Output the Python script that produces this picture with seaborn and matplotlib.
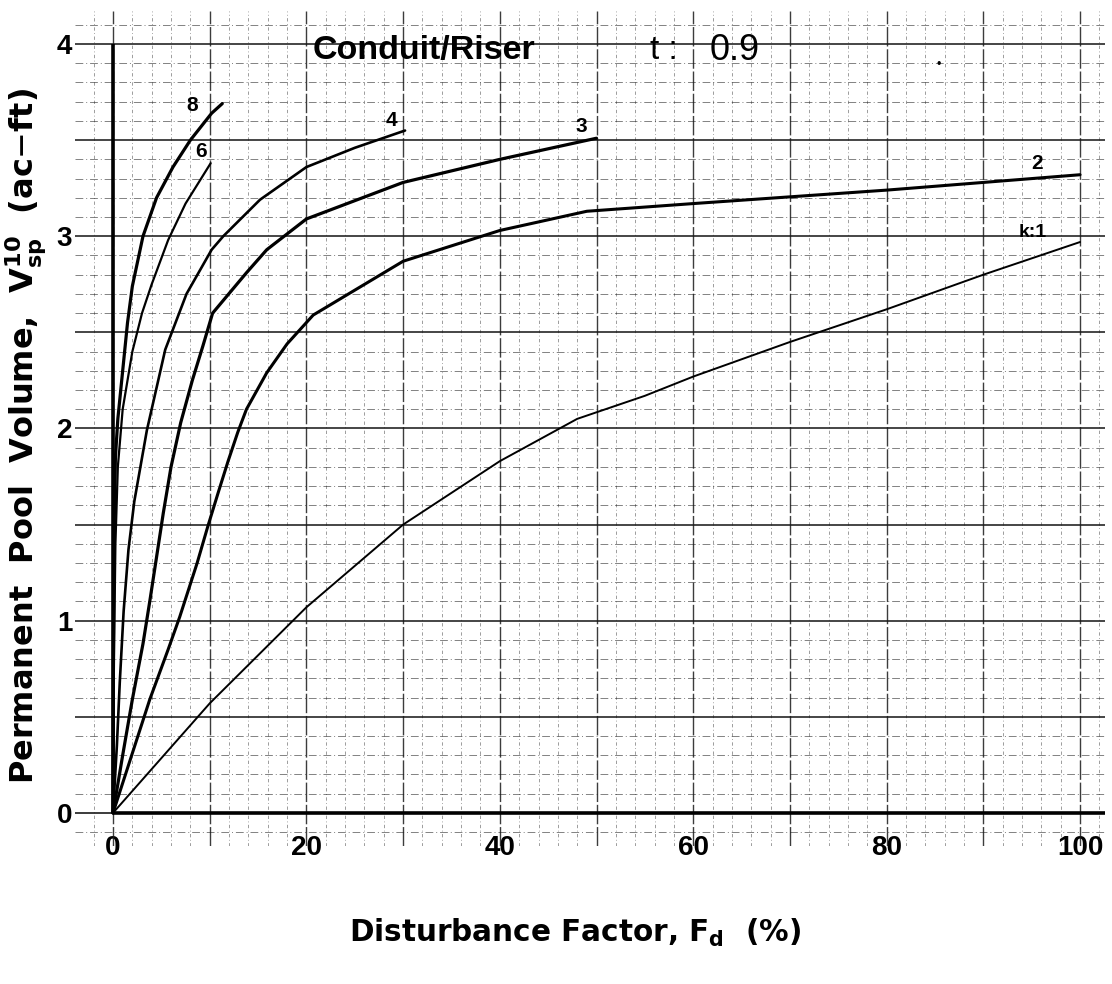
import numpy as np
import pandas as pd
import matplotlib
matplotlib.use("Agg")
import matplotlib.pyplot as plt
import seaborn as sns

# ---------------- data ----------------
k8_x = [0, 0.05, 0.12, 0.25, 0.5, 1.0, 1.5, 2.0, 3.1, 4.5, 6.2, 8.0, 10.2, 11.3]
k8_y = [0, 0.9, 1.5, 1.85, 2.05, 2.3, 2.55, 2.74, 3.0, 3.2, 3.36, 3.5, 3.64, 3.69]

k6_x = [0, 0.1, 0.25, 0.5, 1.0, 2.0, 3.0, 4.0, 5.7, 7.5, 10.1]
k6_y = [0, 0.8, 1.4, 1.8, 2.1, 2.4, 2.6, 2.75, 2.98, 3.17, 3.38]

k4_x = [0, 0.4, 0.7, 1.1, 1.6, 2.2, 3.5, 5.4, 7.6, 10.2, 11.4, 15.2, 20, 25, 30.2]
k4_y = [0, 0.35, 0.68, 1.05, 1.37, 1.62, 1.99, 2.41, 2.7, 2.93, 3.0, 3.19, 3.36, 3.46, 3.55]

k3_x = [0, 1.0, 2.0, 3.1, 3.8, 4.5, 5.2, 6.0, 7.0, 8.2, 9.3, 10.3, 13.8, 15.9, 20, 30, 40, 50]
k3_y = [0, 0.3, 0.59, 0.88, 1.1, 1.33, 1.56, 1.8, 2.03, 2.25, 2.43, 2.6, 2.81, 2.93, 3.09, 3.28, 3.40, 3.51]

k2_x = [0, 3.8, 5.7, 6.9, 8.7, 9.8, 10.9, 11.9, 12.9, 13.8, 15.9, 18, 20.7, 30, 40, 49, 60, 80, 100]
k2_y = [0, 0.59, 0.85, 1.02, 1.3, 1.49, 1.67, 1.83, 1.98, 2.1, 2.29, 2.44, 2.59, 2.87, 3.03, 3.13, 3.17, 3.24, 3.32]

k1_x = [0, 10, 20, 30, 40, 48, 55, 60, 70, 80, 90, 100]
k1_y = [0, 0.57, 1.07, 1.5, 1.83, 2.05, 2.17, 2.27, 2.45, 2.62, 2.80, 2.97]

curve_names = ["8", "6", "4", "3", "2", "k:1"]
curve_labels_x = [8.2, 9.1, 28.8, 48.4, 95.6, 95.1]
curve_labels_y = [3.68, 3.44, 3.60, 3.57, 3.38, 3.02]

x_ticks = [0, 20, 40, 60, 80, 100]
y_ticks = [0, 1, 2, 3, 4]

title_text = "Conduit/Riser"
param_name = "t :"
param_value = "0.9"

# ---------------- build long table ----------------
series = {"8": (k8_x, k8_y), "6": (k6_x, k6_y), "4": (k4_x, k4_y),
          "3": (k3_x, k3_y), "2": (k2_x, k2_y), "k:1": (k1_x, k1_y)}
frames = []
for name, (xs, ys) in series.items():
    frames.append(pd.DataFrame({"Fd": xs, "V": ys, "k": name}))
df = pd.concat(frames, ignore_index=True)

# ---------------- style ----------------
sns.set_theme(style="white")
plt.rcParams["font.family"] = ["Liberation Sans", "DejaVu Sans"]
plt.rcParams["mathtext.fontset"] = "dejavusans"
for key in ["text.color", "axes.labelcolor", "xtick.color", "ytick.color"]:
    plt.rcParams[key] = "black"

fig = plt.figure(figsize=(11.12, 9.84), dpi=100)
ax = fig.add_axes([75 / 1112, (984 - 846) / 984, 1030 / 1112, 836 / 984])
ax.set_xlim(-3.93, 102.58)
ax.set_ylim(-0.172, 4.177)
for s in ax.spines.values():
    s.set_visible(False)

# graph-paper grid
gc = "#1a1a1a"
for xv in np.arange(-4, 103, 2):
    if xv % 10 == 0 and xv >= 0:
        continue
    ax.vlines(xv, -0.17, 4.17, color=gc, lw=0.6, ls=(0, (4, 3, 1, 3)), alpha=0.5, zorder=1)
for xv in np.arange(0, 101, 10):
    ax.vlines(xv, -0.17, 4.17, color=gc, lw=1.0, ls=(0, (14, 2)), alpha=0.85, zorder=1)
for yv in np.round(np.arange(-0.1, 4.15, 0.1), 2):
    if abs(yv * 2 - round(yv * 2)) < 1e-6:
        continue
    ax.hlines(yv, -3.93, 102.6, color=gc, lw=0.7, ls=(0, (8, 3, 1, 3)), alpha=0.55, zorder=1)
for yv in np.arange(0.5, 4.01, 0.5):
    ax.hlines(yv, -3.93, 102.6, color=gc, lw=1.2, ls="-", alpha=0.95, zorder=1)

# main axes lines
ax.vlines(0, 0, 4.0, color="black", lw=2.6, zorder=3)
ax.hlines(0, 0, 102.6, color="black", lw=2.6, zorder=3)
ax.hlines(0, -3.93, 0, color=gc, lw=1.2, zorder=3)

# curves
widths = {"8": 2.3, "6": 1.6, "4": 1.9, "3": 2.3, "2": 2.2, "k:1": 1.4}
sns.lineplot(data=df, x="Fd", y="V", hue="k", size="k", sizes=widths,
             palette={n: "black" for n in curve_names}, hue_order=curve_names,
             size_order=curve_names, estimator=None, sort=False,
             legend=False, ax=ax, zorder=4)

for name, lx, ly in zip(curve_names, curve_labels_x, curve_labels_y):
    ax.text(lx, ly, name, ha="center", va="center", fontsize=15 if name != "k:1" else 14,
            fontweight="bold", color="black", zorder=5)

ax.text(20.6, 3.965, title_text, ha="left", va="center", fontsize=24.5, fontweight="bold", zorder=5)
ax.text(55.5, 3.965, param_name, ha="left", va="center", fontsize=24, zorder=5)
ax.text(61.7, 3.965, param_value, ha="left", va="center", fontsize=26, zorder=5)
ax.text(85.4, 3.89, "•", ha="center", va="center", fontsize=9, zorder=5)

# ticks
ax.set_xticks(x_ticks)
ax.set_xticklabels([str(v) for v in x_ticks])
ax.set_yticks(y_ticks)
ax.set_yticklabels([str(v) for v in y_ticks])
ax.tick_params(axis="x", length=0, pad=-8, labelsize=20)
ax.tick_params(axis="y", length=0, pad=2, labelsize=20)
for lab in ax.get_xticklabels() + ax.get_yticklabels():
    lab.set_fontweight("bold")

xl = ax.set_xlabel(r"Disturbance Factor, $\mathbf{F_d}$  (%)", fontsize=20,
                   fontweight="bold", fontfamily="DejaVu Sans")
ax.set_ylabel(r"Permanent  Pool  Volume,  $\mathbf{V_{sp}^{10}}$  (ac$-$ft)", fontsize=23,
              fontweight="bold", fontfamily="DejaVu Sans")

# fit x-label size to the reference length (pixels)
fig.canvas.draw()
r = fig.canvas.get_renderer()
wx = xl.get_window_extent(r).width
xl.set_fontsize(20 * 453 / wx)

ax.xaxis.set_label_coords(0.485, -0.085)
ax.yaxis.set_label_coords(-0.026, 0.49)

fig.savefig("out.png", dpi=100, facecolor="white")
